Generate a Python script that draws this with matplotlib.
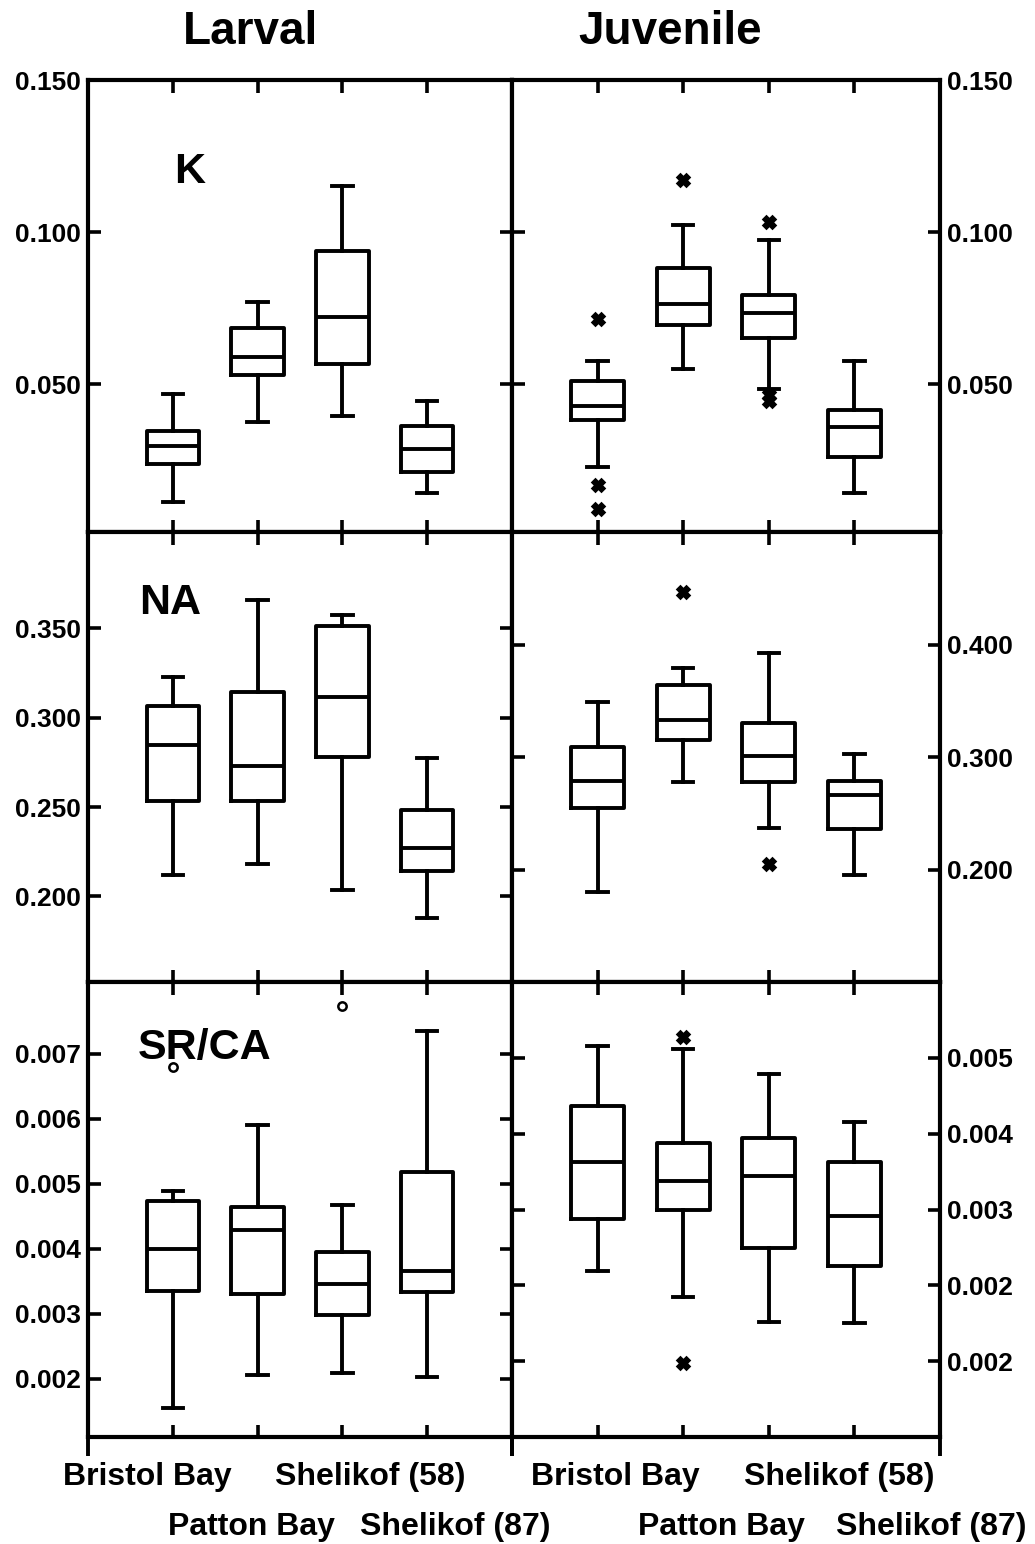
import numpy as np
import matplotlib.pyplot as plt
from matplotlib.ticker import FixedLocator, FixedFormatter

plt.rcParams['font.family'] = ['Liberation Sans', 'DejaVu Sans']
plt.rcParams['font.weight'] = 'bold'

sites = ['Bristol Bay', 'Patton Bay', 'Shelikof (58)', 'Shelikof (87)']
stages = ['Larval', 'Juvenile']
variables = ['K', 'NA', 'SR/CA']

# box summaries per site: lower whisker, Q1, median, Q3, upper whisker, outliers
# K, larval
k_lar_lo = [0.0113, 0.0377, 0.0395, 0.0143]
k_lar_q1 = [0.0239, 0.0532, 0.0568, 0.0212]
k_lar_med = [0.0299, 0.0591, 0.0723, 0.0288]
k_lar_q3 = [0.0348, 0.0684, 0.0938, 0.0362]
k_lar_hi = [0.0469, 0.0772, 0.1153, 0.0447]
k_lar_out = [[], [], [], []]

# K, juvenile
k_juv_lo = [0.0230, 0.0549, 0.0485, 0.0142]
k_juv_q1 = [0.0384, 0.0695, 0.0653, 0.0260]
k_juv_med = [0.0428, 0.0763, 0.0736, 0.0359]
k_juv_q3 = [0.0511, 0.0882, 0.0794, 0.0417]
k_juv_hi = [0.0576, 0.1022, 0.0975, 0.0576]
k_juv_out = [[0.0716, 0.0169, 0.0089], [0.1171], [0.1035, 0.0466, 0.0445], []]

# NA, larval
na_lar_lo = [0.2121, 0.2181, 0.2037, 0.1879]
na_lar_q1 = [0.2531, 0.2531, 0.2782, 0.2144]
na_lar_med = [0.2847, 0.2732, 0.3117, 0.2270]
na_lar_q3 = [0.3067, 0.3145, 0.3514, 0.2484]
na_lar_hi = [0.3229, 0.3658, 0.3578, 0.2777]
na_lar_out = [[], [], [], []]

# NA, juvenile
na_juv_lo = [0.180, 0.278, 0.237, 0.1955]
na_juv_q1 = [0.255, 0.315, 0.278, 0.236]
na_juv_med = [0.279, 0.333, 0.301, 0.266]
na_juv_q3 = [0.309, 0.364, 0.330, 0.279]
na_juv_hi = [0.349, 0.379, 0.3925, 0.303]
na_juv_out = [[], [0.447], [0.2045], []]

# SR/CA, larval
sr_lar_lo = [0.00154, 0.00206, 0.00208, 0.00203]
sr_lar_q1 = [0.00335, 0.00330, 0.00298, 0.00333]
sr_lar_med = [0.00399, 0.00428, 0.00345, 0.00366]
sr_lar_q3 = [0.00473, 0.00464, 0.00395, 0.00517]
sr_lar_hi = [0.00489, 0.00590, 0.00467, 0.00734]
sr_lar_out = [[0.00680], [], [0.00773], []]

# SR/CA, juvenile
sr_juv_lo = [0.00219, 0.00185, 0.00152, 0.00150]
sr_juv_q1 = [0.00288, 0.00299, 0.00249, 0.00225]
sr_juv_med = [0.00362, 0.00338, 0.00344, 0.00291]
sr_juv_q3 = [0.00437, 0.00388, 0.00394, 0.00362]
sr_juv_hi = [0.00515, 0.00511, 0.00479, 0.00415]
sr_juv_out = [[], [0.00528, 0.00097], [], []]

# axis scales and tick labels
k_ylim = (0.0015, 0.150)
k_ticks = [0.050, 0.100, 0.150]
k_labels = ['0.050', '0.100', '0.150']
na_lar_ylim = (0.152, 0.404)
na_lar_ticks = [0.200, 0.250, 0.300, 0.350]
na_lar_labels = ['0.200', '0.250', '0.300', '0.350']
na_juv_ylim = (0.100, 0.500)
na_juv_ticks = [0.200, 0.300, 0.400]
na_juv_labels = ['0.200', '0.300', '0.400']
sr_lar_ylim = (0.0011, 0.0081)
sr_lar_ticks = [0.002, 0.003, 0.004, 0.005, 0.006, 0.007]
sr_lar_labels = ['0.002', '0.003', '0.004', '0.005', '0.006', '0.007']
sr_juv_ylim = (0.0, 0.006)
sr_juv_ticks = [0.001, 0.002, 0.003, 0.004, 0.005]
sr_juv_labels = ['0.002', '0.002', '0.003', '0.004', '0.005']


def box_stats(lo, q1, med, q3, hi, out):
    return [dict(whislo=a, q1=b, med=c, q3=d, whishi=e, fliers=f)
            for a, b, c, d, e, f in zip(lo, q1, med, q3, hi, out)]


panels = [
    [(box_stats(k_lar_lo, k_lar_q1, k_lar_med, k_lar_q3, k_lar_hi, k_lar_out),
      k_ylim, k_ticks, k_labels, 'X'),
     (box_stats(k_juv_lo, k_juv_q1, k_juv_med, k_juv_q3, k_juv_hi, k_juv_out),
      k_ylim, k_ticks, k_labels, 'X')],
    [(box_stats(na_lar_lo, na_lar_q1, na_lar_med, na_lar_q3, na_lar_hi, na_lar_out),
      na_lar_ylim, na_lar_ticks, na_lar_labels, 'X'),
     (box_stats(na_juv_lo, na_juv_q1, na_juv_med, na_juv_q3, na_juv_hi, na_juv_out),
      na_juv_ylim, na_juv_ticks, na_juv_labels, 'X')],
    [(box_stats(sr_lar_lo, sr_lar_q1, sr_lar_med, sr_lar_q3, sr_lar_hi, sr_lar_out),
      sr_lar_ylim, sr_lar_ticks, sr_lar_labels, 'o'),
     (box_stats(sr_juv_lo, sr_juv_q1, sr_juv_med, sr_juv_q3, sr_juv_hi, sr_juv_out),
      sr_juv_ylim, sr_juv_ticks, sr_juv_labels, 'X')],
]

W, H = 1035, 1544
fig = plt.figure(figsize=(W / 100, H / 100), dpi=100)

# panel frames in pixels (left, right) and (top, bottom)
col_px = [(88, 512), (512, 940)]
row_px = [(80, 532), (532, 982), (982, 1437)]

lw = 2.8
line = dict(color='black', linewidth=lw)
label_pos = [(190, 172), (170, 603), (205, 1048)]

# bottom category labels: (dx, dy) offsets in pixels from each box position
site_offsets = [[(-25, -40), (-6, -90), (28, -40), (28, -90)],
                [(18, -40), (38, -90), (70, -40), (77, -90)]]

for r, row in enumerate(panels):
    for c, (stats, ylim, ticks, labels, fmark) in enumerate(row):
        x0, x1 = col_px[c]
        y0, y1 = row_px[r]
        ax = fig.add_axes([x0 / W, 1 - y1 / H, (x1 - x0) / W, (y1 - y0) / H])
        ax.bxp(stats, positions=[1, 2, 3, 4], widths=0.62, capwidths=0.24,
               boxprops=line, medianprops=line, whiskerprops=line, capprops=line,
               flierprops=dict(marker=fmark, markersize=8 if fmark == 'X' else 6,
                               markerfacecolor='black' if fmark == 'X' else 'white',
                               markeredgecolor='black', markeredgewidth=1.8))
        ax.set_xlim(0, 5)
        ax.set_ylim(*ylim)
        ax.yaxis.set_major_locator(FixedLocator(ticks))
        ax.yaxis.set_major_formatter(FixedFormatter(labels))
        ax.set_xticks([1, 2, 3, 4])
        ax.set_xticklabels([])
        ax.tick_params(which='major', direction='in', length=9, width=2.6,
                       top=True, bottom=True, left=True, right=True,
                       labelleft=(c == 0), labelright=(c == 1),
                       labelsize=19, pad=5)
        for sp in ax.spines.values():
            sp.set_linewidth(3.0)
        if c == 0:
            ax.text((label_pos[r][0] - x0) / (x1 - x0),
                    1 - (label_pos[r][1] - y0) / (y1 - y0),
                    variables[r], transform=ax.transAxes, fontsize=31,
                    fontweight='bold', ha='center', va='center')
        if r == len(panels) - 1:
            ax.set_xticks([0, 5], minor=True)
            ax.tick_params(which='minor', direction='out', length=14, width=2.8,
                           bottom=True, top=False)
            for i, name in enumerate(sites):
                dx, dy = site_offsets[c][i]
                ax.annotate(name, xy=(i + 1, 0), xycoords=ax.get_xaxis_transform(),
                            xytext=(dx, dy), textcoords='offset pixels',
                            ha='center', va='center', fontsize=23,
                            fontweight='bold')

fig.text(251 / W, 1 - 32 / H, stages[0], fontsize=33, fontweight='bold',
         ha='center', va='center')
fig.text(670 / W, 1 - 32 / H, stages[1], fontsize=33, fontweight='bold',
         ha='center', va='center')

fig.savefig('out.png', dpi=100)
